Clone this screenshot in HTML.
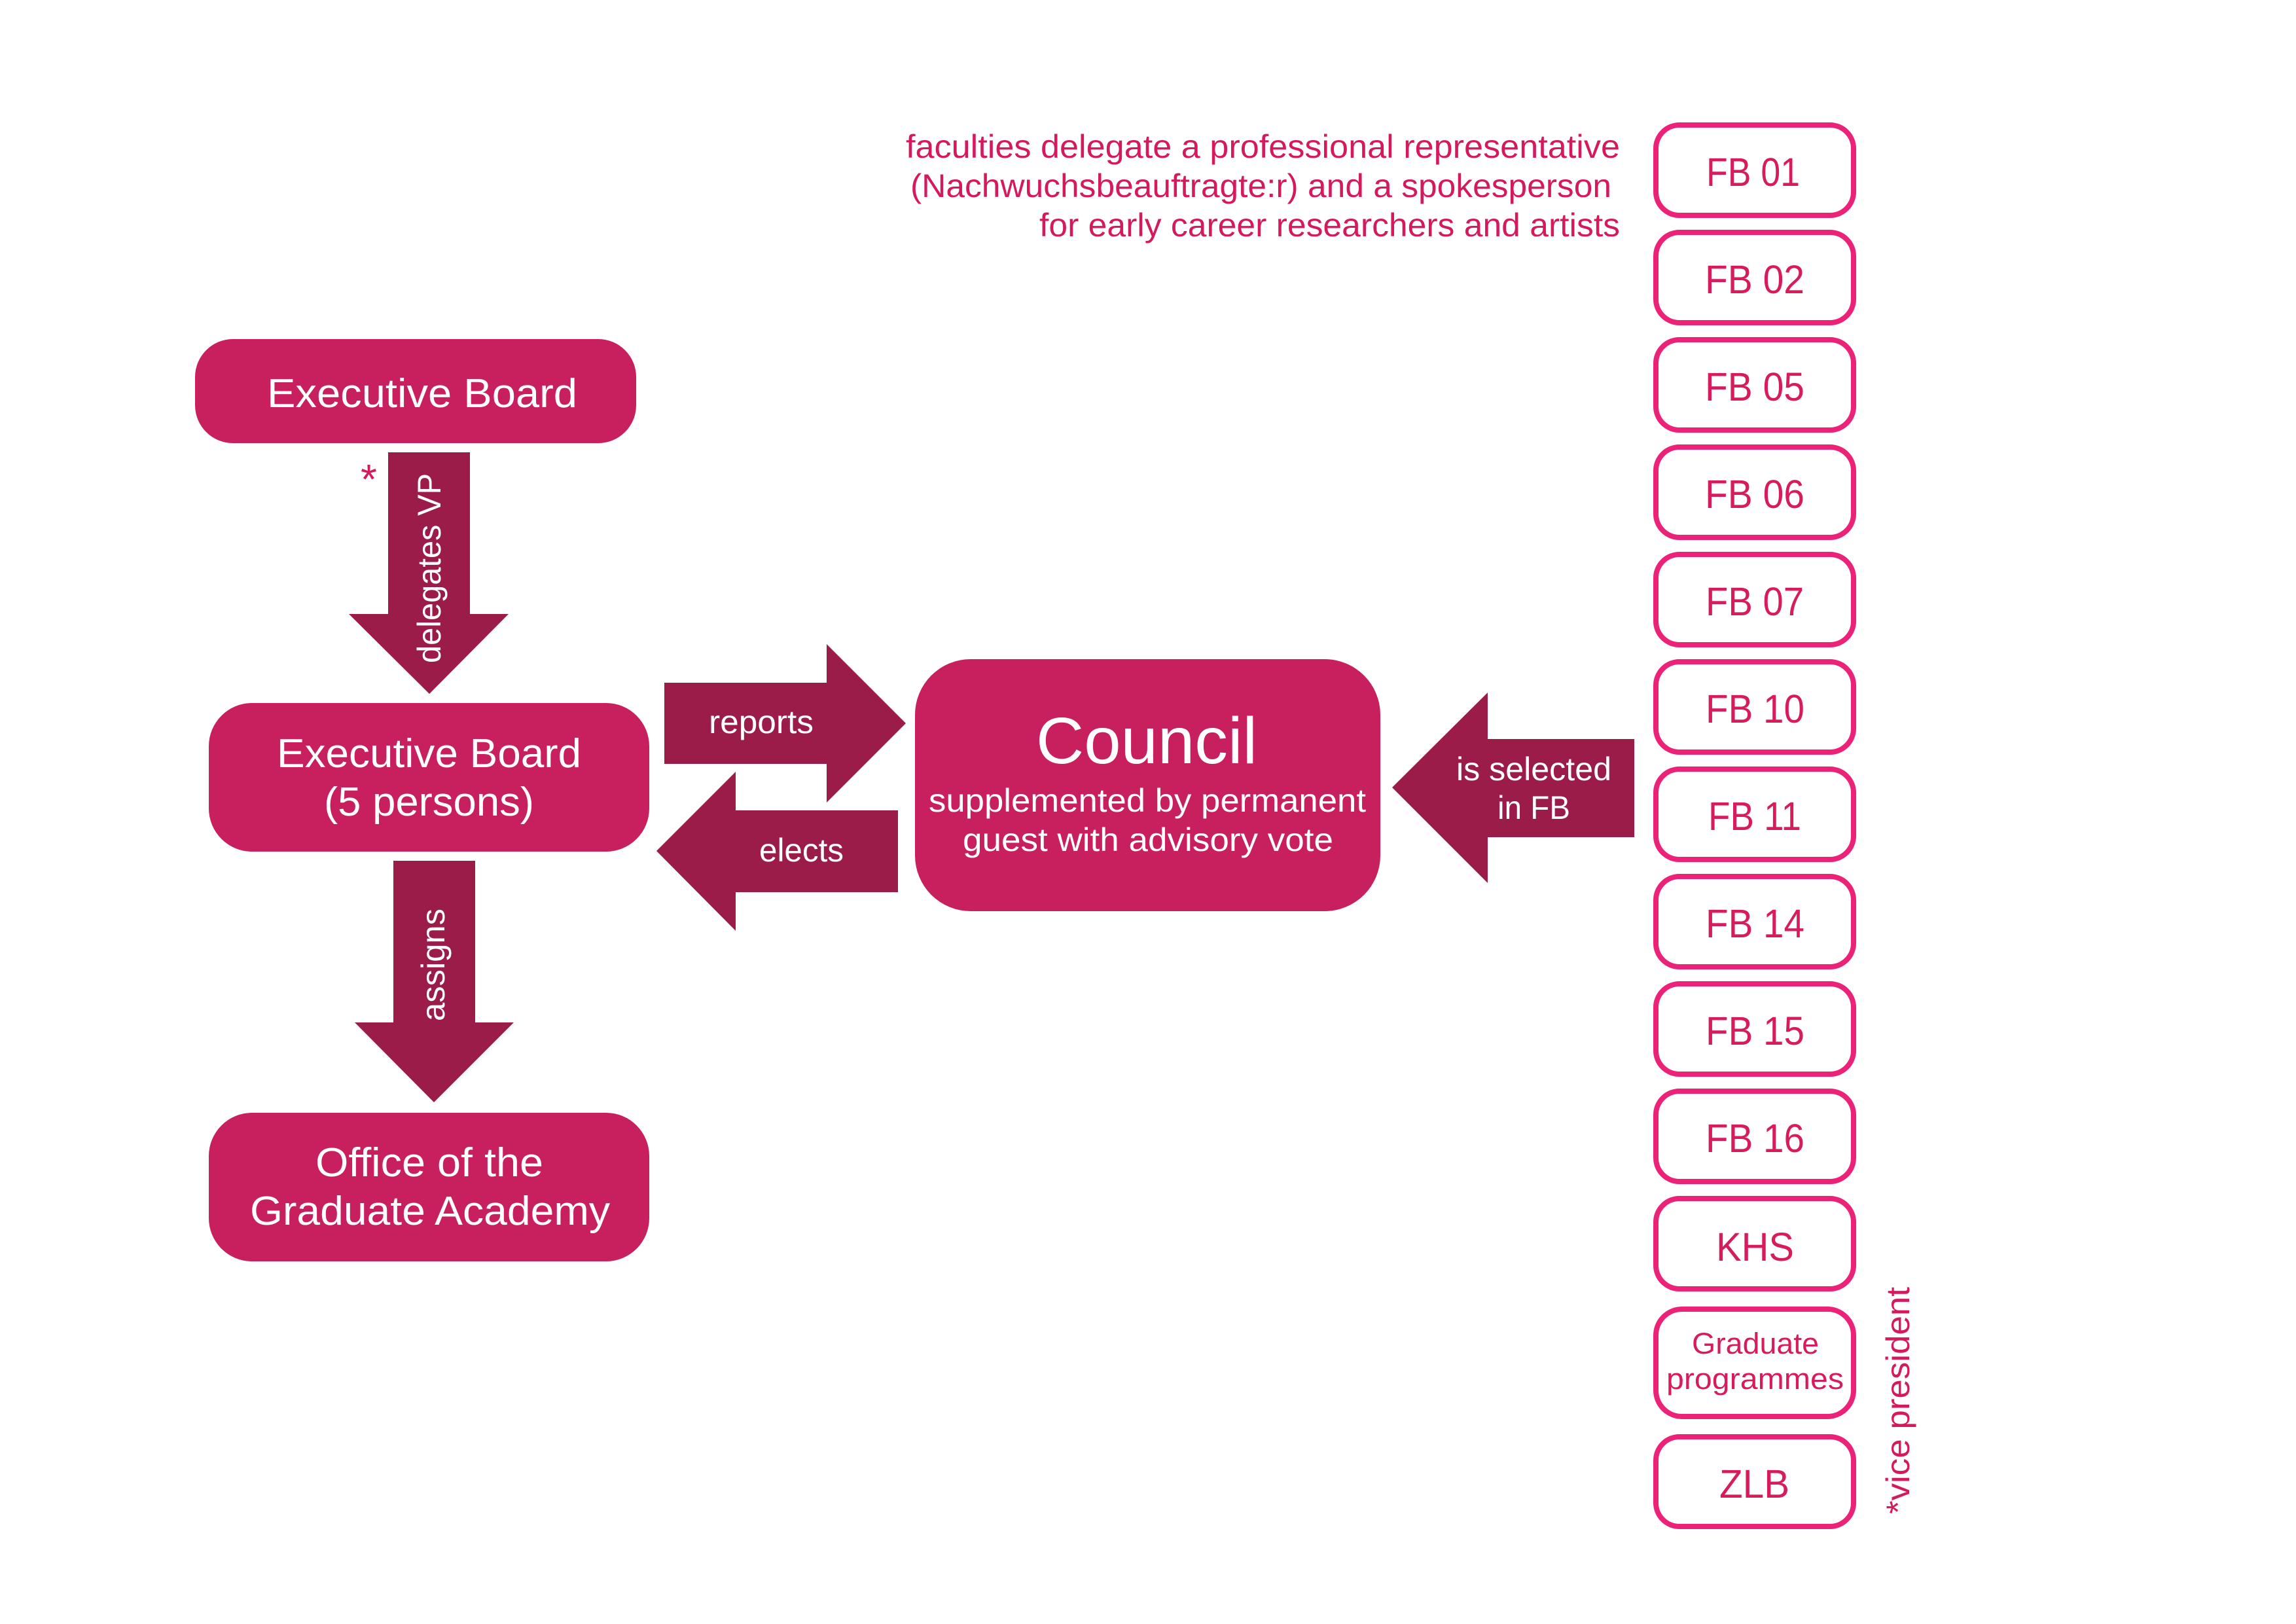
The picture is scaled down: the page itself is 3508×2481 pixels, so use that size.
<!DOCTYPE html>
<html>
<head>
<meta charset="utf-8">
<style>
  html, body { margin:0; padding:0; background:#ffffff; }
  body { width:3508px; height:2481px; overflow:hidden; }
  svg { display:block; }
  text { font-family: "Liberation Sans", "DejaVu Sans", sans-serif; }
</style>
</head>
<body>
<svg width="3508" height="2481" viewBox="0 0 3508 2481" xmlns="http://www.w3.org/2000/svg">
  <rect x="0" y="0" width="3508" height="2481" fill="#ffffff"/>

  <!-- Top right explanatory text -->
  <g fill="#D5195D" font-size="50">
    <text x="1384" y="241" textLength="1091" lengthAdjust="spacingAndGlyphs">faculties delegate a professional representative</text>
    <text x="1391" y="301" textLength="1071" lengthAdjust="spacingAndGlyphs">(Nachwuchsbeauftragte:r) and a spokesperson</text>
    <text x="1588" y="361" textLength="887" lengthAdjust="spacingAndGlyphs">for early career researchers and artists</text>
  </g>

  <!-- Left column boxes -->
  <rect x="298" y="518" width="674" height="159" rx="58" ry="58" fill="#C81F5F"/>
  <rect x="319" y="1074" width="673" height="227" rx="66" ry="66" fill="#C81F5F"/>
  <rect x="319" y="1700" width="673" height="227" rx="66" ry="66" fill="#C81F5F"/>

  <g fill="#ffffff" font-size="62">
    <text x="408" y="622" textLength="474" lengthAdjust="spacingAndGlyphs">Executive Board</text>
    <text x="423" y="1172" textLength="465" lengthAdjust="spacingAndGlyphs">Executive Board</text>
    <text x="495" y="1246" textLength="321" lengthAdjust="spacingAndGlyphs">(5 persons)</text>
    <text x="482" y="1797" textLength="348" lengthAdjust="spacingAndGlyphs">Office of the</text>
    <text x="382" y="1871" textLength="550" lengthAdjust="spacingAndGlyphs">Graduate Academy</text>
  </g>

  <!-- Arrows -->
  <g fill="#9B1C48">
    <!-- delegates VP -->
    <polygon points="593,691 718,691 718,938 777,938 656,1060 533,938 593,938"/>
    <!-- assigns -->
    <polygon points="601,1315 726,1315 726,1562 785,1562 663,1684 542,1562 601,1562"/>
    <!-- reports -->
    <polygon points="1015,1043 1263,1043 1263,984 1384,1105 1263,1226 1263,1167 1015,1167"/>
    <!-- elects -->
    <polygon points="1372,1238 1124,1238 1124,1179 1003,1300 1124,1422 1124,1363 1372,1363"/>
    <!-- is selected -->
    <polygon points="2497,1129 2273,1129 2273,1058 2127,1203 2273,1349 2273,1279 2497,1279"/>
  </g>

  <!-- asterisk -->
  <text x="551" y="754" font-size="64" fill="#D5195D">*</text>

  <!-- Arrow labels -->
  <g fill="#ffffff" font-size="50">
    <text transform="translate(673,1013) rotate(-90)" x="0" y="0" textLength="290" lengthAdjust="spacingAndGlyphs">delegates VP</text>
    <text transform="translate(679,1560) rotate(-90)" x="0" y="0" textLength="172" lengthAdjust="spacingAndGlyphs">assigns</text>
    <text x="1083" y="1120" textLength="160" lengthAdjust="spacingAndGlyphs">reports</text>
    <text x="1160" y="1316" textLength="129" lengthAdjust="spacingAndGlyphs">elects</text>
    <text x="2225" y="1192" textLength="237" lengthAdjust="spacingAndGlyphs">is selected</text>
    <text x="2288" y="1251" textLength="111" lengthAdjust="spacingAndGlyphs">in FB</text>
  </g>

  <!-- Council -->
  <rect x="1398" y="1007" width="711" height="385" rx="85" ry="85" fill="#C81F5F"/>
  <g fill="#ffffff">
    <text x="1583" y="1166" font-size="100" textLength="338" lengthAdjust="spacingAndGlyphs">Council</text>
    <text x="1419" y="1240" font-size="50" textLength="668" lengthAdjust="spacingAndGlyphs">supplemented by permanent</text>
    <text x="1471" y="1300" font-size="50" textLength="566" lengthAdjust="spacingAndGlyphs">guest with advisory vote</text>
  </g>

  <!-- FB column -->
  <g fill="none" stroke="#EC2279" stroke-width="8">
    <rect x="2530" y="191" width="302" height="138" rx="36" ry="36"/>
    <rect x="2530" y="355" width="302" height="138" rx="36" ry="36"/>
    <rect x="2530" y="519" width="302" height="138" rx="36" ry="36"/>
    <rect x="2530" y="683" width="302" height="138" rx="36" ry="36"/>
    <rect x="2530" y="847" width="302" height="138" rx="36" ry="36"/>
    <rect x="2530" y="1011" width="302" height="138" rx="36" ry="36"/>
    <rect x="2530" y="1175" width="302" height="138" rx="36" ry="36"/>
    <rect x="2530" y="1339" width="302" height="138" rx="36" ry="36"/>
    <rect x="2530" y="1503" width="302" height="138" rx="36" ry="36"/>
    <rect x="2530" y="1667" width="302" height="138" rx="36" ry="36"/>
    <rect x="2530" y="1831" width="302" height="138" rx="36" ry="36"/>
    <rect x="2530" y="2000" width="302" height="164" rx="40" ry="40"/>
    <rect x="2530" y="2195" width="302" height="137" rx="36" ry="36"/>
  </g>

  <g fill="#D81B5C" font-size="61">
    <text x="2607" y="284" textLength="143" lengthAdjust="spacingAndGlyphs">FB 01</text>
    <text x="2605" y="448" textLength="152" lengthAdjust="spacingAndGlyphs">FB 02</text>
    <text x="2605" y="612" textLength="152" lengthAdjust="spacingAndGlyphs">FB 05</text>
    <text x="2605" y="776" textLength="152" lengthAdjust="spacingAndGlyphs">FB 06</text>
    <text x="2606" y="940" textLength="150" lengthAdjust="spacingAndGlyphs">FB 07</text>
    <text x="2606" y="1104" textLength="151" lengthAdjust="spacingAndGlyphs">FB 10</text>
    <text x="2610" y="1268" textLength="142" lengthAdjust="spacingAndGlyphs">FB 11</text>
    <text x="2606" y="1432" textLength="151" lengthAdjust="spacingAndGlyphs">FB 14</text>
    <text x="2606" y="1596" textLength="151" lengthAdjust="spacingAndGlyphs">FB 15</text>
    <text x="2606" y="1760" textLength="151" lengthAdjust="spacingAndGlyphs">FB 16</text>
    <text x="2622" y="1926" textLength="119" lengthAdjust="spacingAndGlyphs">KHS</text>
    <text x="2627" y="2288" textLength="107" lengthAdjust="spacingAndGlyphs">ZLB</text>
  </g>
  <g fill="#D81B5C" font-size="45">
    <text x="2585" y="2068" textLength="194" lengthAdjust="spacingAndGlyphs">Graduate</text>
    <text x="2546" y="2122" textLength="271" lengthAdjust="spacingAndGlyphs">programmes</text>
  </g>

  <!-- vice president footnote -->
  <text transform="translate(2917,2313) rotate(-90)" x="0" y="0" font-size="50" fill="#D5195D" textLength="347" lengthAdjust="spacingAndGlyphs">*vice president</text>
</svg>
</body>
</html>
